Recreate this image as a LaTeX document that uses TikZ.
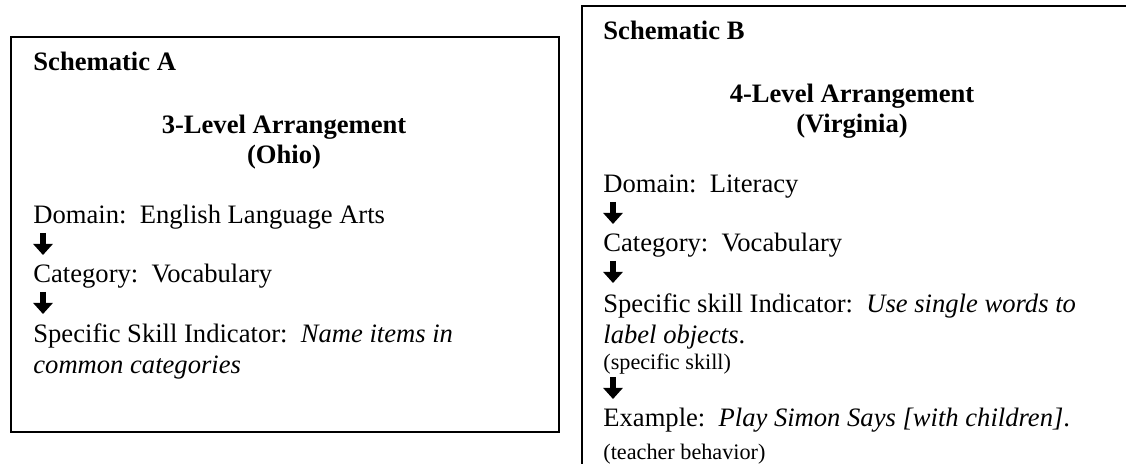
\documentclass[tikz,border=0pt]{standalone}
\usepackage{fontspec}
\setmainfont{Liberation Serif}
\usetikzlibrary{arrows.meta}
\begin{document}
\begin{tikzpicture}[x=0.5pt,y=-0.5pt,
  txt/.style={inner sep=0pt,anchor=base west,font=\fontsize{13.3pt}{15pt}\selectfont},
  small/.style={inner sep=0pt,anchor=base west,font=\fontsize{11.1pt}{13pt}\selectfont},
  head/.style={inner sep=0pt,anchor=base,font=\fontsize{13.3pt}{15pt}\selectfont\bfseries},
  title/.style={inner sep=0pt,anchor=base west,font=\fontsize{13.3pt}{15pt}\selectfont\bfseries},
  frame/.style={draw=black,line width=0.8pt},
  downarr/.style={line width=3pt,-{Triangle[width=9.5pt,length=5.5pt]}}]
\useasboundingbox (0,0) rectangle (1126,464);
% Box A
\draw[frame] (11,37) rectangle (559,432);
\node[title] (sa) at (33,71) {Schematic A};
\node[head] (ha) at (284,134) {3-Level Arrangement};
\node[head] (oa) at (284,164) {(Ohio)};
\node[txt] (da) at (33,224) {Domain:\ \ English Language Arts};
\node[txt] (ca) at (33,283) {Category:\ \ Vocabulary};
\node[txt] (ka) at (33,343) {Specific Skill Indicator:\ \ \textit{Name items in}};
\node[txt] (ka2) at (33,374) {\textit{common categories}};
\coordinate (a1s) at (43,233);
\coordinate (a1e) at (43,255);
\coordinate (a2s) at (43,292);
\coordinate (a2e) at (43,314);
\draw[downarr] (a1s) -- (a1e);
\draw[downarr] (a2s) -- (a2e);
% Box B (cut off at right and bottom)
\draw[frame] (1126,6) -- (582,6) -- (582,464);
\node[title] (sb) at (603,40) {Schematic B};
\node[head] (hb) at (852,103) {4-Level Arrangement};
\node[head] (vb) at (852,133) {(Virginia)};
\node[txt] (db) at (603,193) {Domain:\ \ Literacy};
\node[txt] (cb) at (603,252) {Category:\ \ Vocabulary};
\node[txt] (kb) at (603,313) {Specific skill Indicator:\ \ \textit{Use single words to}};
\node[txt] (kb2) at (603,344) {\textit{label objects}.};
\node[small] (sk) at (603,370) {(specific skill)};
\node[txt] (eb) at (603,427) {Example:\ \ \textit{Play Simon Says [with children]}.};
\node[small] (tb) at (603,460) {(teacher behavior)};
\coordinate (b1s) at (613,202);
\coordinate (b1e) at (613,224);
\coordinate (b2s) at (613,261);
\coordinate (b2e) at (613,283);
\coordinate (b3s) at (613,377);
\coordinate (b3e) at (613,399);
\draw[downarr] (b1s) -- (b1e);
\draw[downarr] (b2s) -- (b2e);
\draw[downarr] (b3s) -- (b3e);
\end{tikzpicture}
\end{document}
